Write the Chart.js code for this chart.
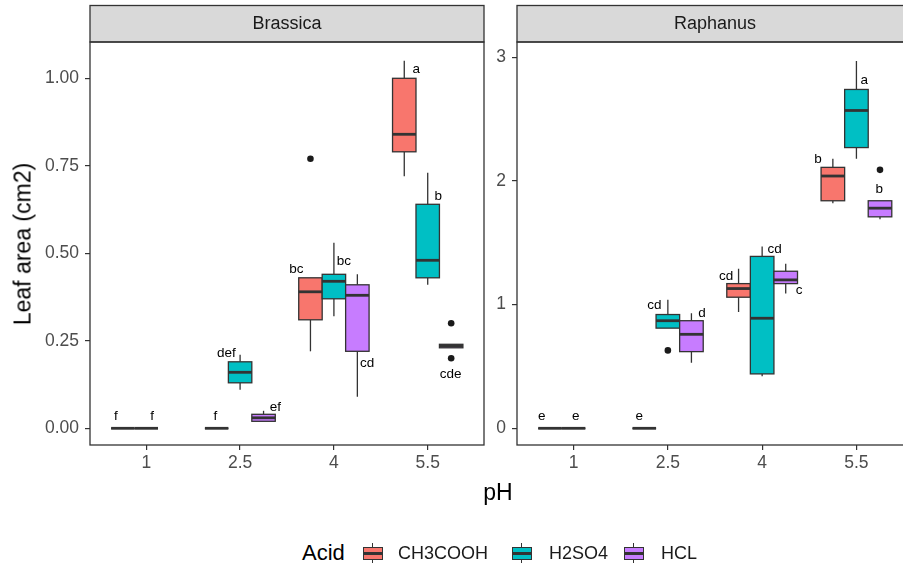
<!DOCTYPE html>
<html>
<head>
<meta charset="utf-8">
<script src="https://cdn.jsdelivr.net/npm/chart.js@4.4.1/dist/chart.umd.min.js"></script>
<style>
  body { margin: 0; background: #fff; }
  #wrap { position: relative; width: 903px; height: 567px; overflow: hidden; background: #fff;
          font-family: "Liberation Sans", Arial, sans-serif; }
  canvas { position: absolute; top: 0; }
  #cA { left: 0; }
  #cB { left: 484px; }
  .t { position: absolute; white-space: nowrap; color: #000; }
  .key { position: absolute; top: 543px; width: 20px; height: 20px; }
  .key .w { position: absolute; left: 9px; top: 0; width: 1.2px; height: 20px; background: #333; }
  .key .b { position: absolute; left: 0; top: 4px; width: 20px; height: 13px; box-sizing: border-box; border: 1.2px solid #333; }
  .key .m { position: absolute; left: 0; top: 9px; width: 20px; height: 2.5px; background: #333; }
</style>
</head>
<body>
<div id="wrap">
  <canvas id="cA" width="488" height="500"></canvas>
  <canvas id="cB" width="433" height="500"></canvas>
  <div class="t" style="left:23px;top:244px;font-size:23px;transform:translate(-50%,-50%) rotate(-90deg);">Leaf area (cm2)</div>
  <div class="t" style="left:498px;top:492px;font-size:23px;transform:translate(-50%,-50%);">pH</div>
  <div class="t" style="left:302px;top:553px;font-size:22px;transform:translateY(-50%);">Acid</div>
  <div class="key" style="left:363px"><div class="w"></div><div class="b" style="background:#F8766D"></div><div class="m"></div></div>
  <div class="t" style="left:398px;top:553px;font-size:18px;color:#1a1a1a;transform:translateY(-50%);">CH3COOH</div>
  <div class="key" style="left:512px"><div class="w"></div><div class="b" style="background:#00BFC4"></div><div class="m"></div></div>
  <div class="t" style="left:549px;top:553px;font-size:18px;color:#1a1a1a;transform:translateY(-50%);">H2SO4</div>
  <div class="key" style="left:624px"><div class="w"></div><div class="b" style="background:#C77CFF"></div><div class="m"></div></div>
  <div class="t" style="left:661px;top:553px;font-size:18px;color:#1a1a1a;transform:translateY(-50%);">HCL</div>
</div>
<script>
// x categories
const phLabels = ['1', '2.5', '4', '5.5'];
const acids = ['CH3COOH', 'H2SO4', 'HCL'];
const acidColors = ['#F8766D', '#00BFC4', '#C77CFF'];

// box stats per pH: [min, q1, median, q3, max], null = no data
const brassicaCH3COOH = [[0,0,0,0,0], [0,0,0,0,0], [0.22,0.31,0.39,0.43,0.43], [0.72,0.79,0.84,1.00,1.05]];
const brassicaH2SO4   = [[0,0,0,0,0], [0.11,0.13,0.16,0.19,0.21], [0.32,0.37,0.42,0.44,0.53], [0.41,0.43,0.48,0.64,0.73]];
const brassicaHCL     = [null, [0.02,0.02,0.03,0.04,0.05], [0.09,0.22,0.38,0.41,0.44], [0.23,0.23,0.235,0.24,0.24]];
const raphanusCH3COOH = [[0,0,0,0,0], [0,0,0,0,0], [0.94,1.06,1.13,1.17,1.29], [1.82,1.84,2.04,2.11,2.18]];
const raphanusH2SO4   = [[0,0,0,0,0], [0.81,0.81,0.87,0.92,1.04], [0.42,0.44,0.89,1.39,1.47], [2.18,2.27,2.57,2.74,2.97]];
const raphanusHCL     = [null, [0.53,0.62,0.76,0.87,0.93], [1.09,1.17,1.20,1.27,1.33], [1.69,1.71,1.78,1.84,1.84]];

// outliers per pH
const brassicaOutCH3COOH = [[], [], [0.77], []];
const brassicaOutH2SO4   = [[], [], [], []];
const brassicaOutHCL     = [[], [], [], [0.30, 0.20]];
const raphanusOutCH3COOH = [[], [], [], []];
const raphanusOutH2SO4   = [[], [0.63], [], []];
const raphanusOutHCL     = [[], [], [], [2.09]];

// significance letters
const brassicaLetters = ['f','f','f','def','ef','bc','bc','cd','a','b','cde'];
const raphanusLetters = ['e','e','e','cd','d','cd','cd','c','b','a','b'];
// where the letters sit, in data coordinates [x, y]
const brassicaLetterPos = [[0.677,0.034],[1.061,0.034],[1.736,0.034],[1.854,0.213],[2.377,0.061],[2.601,0.454],[3.106,0.478],[3.355,0.187],[3.878,1.025],[4.113,0.663],[4.244,0.154]];
const raphanusLetterPos = [[0.663,0.094],[1.024,0.094],[1.697,0.094],[1.857,0.991],[2.363,0.93],[2.619,1.231],[3.132,1.447],[3.391,1.118],[3.593,2.175],[4.082,2.816],[4.242,1.932]];

const dodge = 0.25;

function outlierData(lists){
  const pts = [];
  lists.forEach((perPh, a) => {
    perPh.forEach((vals, j) => {
      vals.forEach(v => pts.push({x: j + 1 + (a - 1) * dodge, y: v}));
    });
  });
  return pts;
}

function facetPlugin(title, boxes, letters, letterPos){
  return {
    id: 'facet',
    beforeDatasetsDraw(chart){
      const ctx = chart.ctx, x = chart.scales.x, y = chart.scales.y, ca = chart.chartArea;
      // strip
      ctx.save();
      ctx.fillStyle = '#d9d9d9';
      ctx.fillRect(ca.left, 5, ca.right - ca.left, ca.top - 5);
      ctx.strokeStyle = '#333';
      ctx.lineWidth = 1.3;
      ctx.strokeRect(ca.left, 5.5, ca.right - ca.left, ca.top - 5.5);
      ctx.fillStyle = '#1a1a1a';
      ctx.font = '18px "Liberation Sans", Arial, sans-serif';
      ctx.textAlign = 'center';
      ctx.textBaseline = 'middle';
      ctx.fillText(title, (ca.left + ca.right) / 2, 24);
      ctx.restore();

      // boxes
      ctx.save();
      ctx.beginPath();
      ctx.rect(ca.left, ca.top, ca.right - ca.left, ca.bottom - ca.top);
      ctx.clip();
      ctx.strokeStyle = '#333';
      boxes.forEach((series, a) => {
        series.forEach((s, j) => {
          if (!s) return;
          const xc = j + 1 + (a - 1) * dodge;
          const xl = x.getPixelForValue(xc - dodge / 2);
          const xr = x.getPixelForValue(xc + dodge / 2);
          const xm = x.getPixelForValue(xc);
          const [mn, q1, md, q3, mx] = s.map(v => y.getPixelForValue(v));
          ctx.lineWidth = 1.3;
          ctx.beginPath();
          ctx.moveTo(xm, q3); ctx.lineTo(xm, mx);
          ctx.moveTo(xm, q1); ctx.lineTo(xm, mn);
          ctx.stroke();
          ctx.fillStyle = acidColors[a];
          ctx.fillRect(xl, q3, xr - xl, q1 - q3);
          ctx.strokeRect(xl, q3, xr - xl, q1 - q3);
          ctx.lineWidth = 2.8;
          ctx.beginPath();
          ctx.moveTo(xl, md); ctx.lineTo(xr, md);
          ctx.stroke();
        });
      });
      ctx.restore();
    },
    afterDraw(chart){
      const ctx = chart.ctx, x = chart.scales.x, y = chart.scales.y, ca = chart.chartArea;
      ctx.save();
      ctx.fillStyle = '#000';
      ctx.font = '13.5px "Liberation Sans", Arial, sans-serif';
      ctx.textAlign = 'center';
      ctx.textBaseline = 'middle';
      letters.forEach((t, i) => {
        ctx.fillText(t, x.getPixelForValue(letterPos[i][0]), y.getPixelForValue(letterPos[i][1]));
      });
      ctx.strokeStyle = '#333';
      ctx.lineWidth = 1.3;
      ctx.strokeRect(ca.left, ca.top, ca.right - ca.left, ca.bottom - ca.top);
      ctx.restore();
    }
  };
}

function makeChart(id, title, boxes, outs, letters, letterPos, yMin, yMax, yTicks, yFmt, yWidth){
  const tickFont = {family: '"Liberation Sans", Arial, sans-serif', size: 17.5};
  return new Chart(document.getElementById(id), {
    type: 'scatter',
    data: {
      datasets: [{
        data: outlierData(outs),
        pointRadius: 3.3,
        pointBackgroundColor: '#1a1a1a',
        pointBorderWidth: 0
      }]
    },
    options: {
      responsive: false,
      animation: false,
      devicePixelRatio: 1,
      layout: {padding: {top: 42, right: 0, left: 0, bottom: 0}},
      plugins: {legend: {display: false}, tooltip: {enabled: false}},
      scales: {
        x: {
          type: 'linear', min: 0.4, max: 4.6,
          afterBuildTicks: s => { s.ticks = [1, 2, 3, 4].map(v => ({value: v})); },
          afterFit: s => { s.height = 55; },
          ticks: {callback: v => phLabels[v - 1], font: tickFont, color: '#4d4d4d', padding: 3, maxRotation: 0},
          grid: {drawOnChartArea: false, drawTicks: true, tickLength: 5, color: '#333', lineWidth: 1.2},
          border: {display: false}
        },
        y: {
          min: yMin, max: yMax,
          afterBuildTicks: s => { s.ticks = yTicks.map(v => ({value: v})); },
          afterFit: s => { s.width = yWidth; },
          ticks: {callback: yFmt, font: tickFont, color: '#4d4d4d', padding: 6},
          grid: {drawOnChartArea: false, drawTicks: true, tickLength: 5, color: '#333', lineWidth: 1.2},
          border: {display: false}
        }
      }
    },
    plugins: [facetPlugin(title, boxes, letters, letterPos)]
  });
}

makeChart('cA', 'Brassica',
  [brassicaCH3COOH, brassicaH2SO4, brassicaHCL],
  [brassicaOutCH3COOH, brassicaOutH2SO4, brassicaOutHCL],
  brassicaLetters, brassicaLetterPos,
  -0.0477, 1.1037, [0, 0.25, 0.5, 0.75, 1], v => v.toFixed(2), 90);

makeChart('cB', 'Raphanus',
  [raphanusCH3COOH, raphanusH2SO4, raphanusHCL],
  [raphanusOutCH3COOH, raphanusOutH2SO4, raphanusOutHCL],
  raphanusLetters, raphanusLetterPos,
  -0.135, 3.1237, [0, 1, 2, 3], v => String(v), 33);
</script>
</body>
</html>
